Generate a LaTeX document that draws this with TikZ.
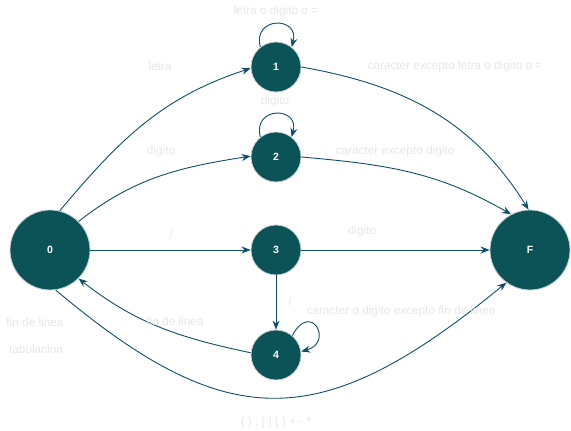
\documentclass[tikz,border=0pt]{standalone}
\usepackage{fontspec}
\setmainfont{Liberation Sans}
\usetikzlibrary{arrows.meta}
\definecolor{nodefill}{HTML}{0B5357}
\definecolor{nodeborder}{HTML}{C9D3D4}
\definecolor{edgecol}{HTML}{0F4F6B}
\definecolor{labelcol}{HTML}{E6E6E6}
\tikzset{
  state/.style={circle, fill=nodefill, draw=nodeborder, line width=0.8pt, inner sep=0pt,
    text=white, font=\fontsize{10.5}{12}\selectfont\bfseries},
  small/.style={state, minimum size=50pt},
  big/.style={state, minimum size=80pt},
  edge/.style={draw=edgecol, line width=0.9pt, -{Stealth[length=9pt,width=7pt]}},
  lbl/.style={text=labelcol, font=\fontsize{11.8}{13}\selectfont, inner sep=0pt}
}
\begin{document}
\begin{tikzpicture}[x=1pt,y=1pt]
\useasboundingbox (0,0) rectangle (571,431);
\node[big]   (n0) at (50,181) {0};
\node[small] (n1) at (276,364) {1};
\node[small] (n2) at (276,274) {2};
\node[small] (n3) at (276,181) {3};
\node[small] (n4) at (276,76) {4};
\node[big]   (nF) at (530,181) {F};

\draw[edge] (n0.76) to[out=50,in=198] (n1.183);
\draw[edge] (n0.45) to[out=38,in=189] (n2.178);
\draw[edge] (n0) -- (n3);
\draw[edge] (n3) -- (nF);
\draw[edge] (n1.0) to[out=-10,in=122] (nF.92);
\draw[edge] (n2.0) to[out=-5,in=150] (nF.118);
\draw[edge] (n3) -- (n4);
\draw[edge] (n4.175) to[out=168,in=-38] (n0.-45);
\draw[edge] (n0.-82) .. controls (228,-4) and (321,-4) .. (nF.-126);

\draw[edge] (n1.128) .. controls +(105:32) and +(75:32) .. (n1.52);
\draw[edge] (n2.128) .. controls +(105:32) and +(75:32) .. (n2.52);
\draw[edge] (n4.50) .. controls +(62:40) and +(15:34) .. (n4.8);

\node[lbl] (l1) at (276,420) {letra o digito o =};
\node[lbl] (l2) at (160,365) {letra};
\node[lbl] (l3) at (455,365) {caracter excepto letra o digito o =};
\node[lbl] (l4) at (161,280) {digito};
\node[lbl] (l5) at (275,330) {digito};
\node[lbl] (l6) at (395,280) {caracter excepto digito};
\node[lbl] (l7) at (171,196) {/};
\node[lbl] (l8) at (362,200) {digito};
\node[lbl] (l9) at (35,109) {fin de linea};
\node[lbl] (l10) at (36,82) {tabulacion};
\node[lbl] (l11) at (290,130) {/};
\node[lbl] (l12) at (401,120) {caracter o digito excepto fin de linea};
\node[lbl] (l13) at (175,110) {fin de linea};
\node[lbl] (l14) at (276,9) {( ) ; [ ] \{ \} + - *};
\end{tikzpicture}
\end{document}
